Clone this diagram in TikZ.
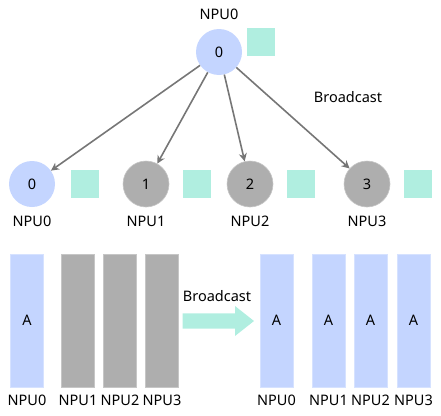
\documentclass[tikz,border=0pt]{standalone}
\usepackage{fontspec}
\setmainfont{Noto Sans}
\usetikzlibrary{arrows.meta}
\definecolor{npublue}{HTML}{C4D5FF}
\definecolor{npugray}{HTML}{AEAEAE}
\definecolor{datateal}{HTML}{B0EEE0}
\definecolor{linkgray}{HTML}{767676}
\newcommand{\lblfont}{\fontsize{14.5}{17}\selectfont}
\tikzstyle{npu}=[circle,minimum size=46pt,inner sep=0pt,font=\lblfont]
\tikzstyle{srcnpu}=[npu,fill=npublue]
\tikzstyle{dstnpu}=[npu,fill=npugray,draw=npugray!70!white,line width=0.6pt]
\tikzstyle{datablock}=[fill=datateal,minimum size=28pt,inner sep=0pt]
\tikzstyle{lbl}=[font=\lblfont,inner sep=0pt]
\tikzstyle{link}=[draw=linkgray,line width=1.6pt,-{Stealth[length=8pt,width=8pt]}]
\tikzstyle{buffer}=[minimum width=33pt,minimum height=133pt,inner sep=0pt,font=\lblfont]
\tikzstyle{fullbuf}=[buffer,fill=npublue,draw=npublue!70!white,line width=0.6pt]
\tikzstyle{emptybuf}=[buffer,fill=npugray,draw=npugray!70!white,line width=0.6pt]

\begin{document}
\begin{tikzpicture}[x=1pt,y=-1pt]
	\useasboundingbox (0,0) rectangle (441,415);
	% top: source NPU
	\node[srcnpu] (root) at (219,52) {0};
	\node[lbl] (rootname) at (219,14) {NPU0};
	\node[datablock] (rootdata) at (261,42) {};
	% row of receivers
	\node[srcnpu] (n0) at (32,184) {0};
	\node[dstnpu] (n1) at (146,184) {1};
	\node[dstnpu] (n2) at (250,184) {2};
	\node[dstnpu] (n3) at (367,184) {3};
	\foreach \i/\x in {0/85,1/197,2/301,3/418} {
		\node[datablock] (d\i) at (\x,184) {};
		\node[lbl] (name\i) at (n\i |- 0,221) {NPU\i};
		\draw[link] (root) -- (n\i);
	}
	\node[lbl] (bcast) at (348,97) {Broadcast};
	% bottom: buffers before and after
	\node[fullbuf] (a0) at (27,320.5) {A};
	\node[emptybuf] (a1) at (78,320.5) {};
	\node[emptybuf] (a2) at (120,320.5) {};
	\node[emptybuf] (a3) at (162,320.5) {};
	\node[fullbuf] (b0) at (276.5,320.5) {A};
	\node[fullbuf] (b1) at (328.5,320.5) {A};
	\node[fullbuf] (b2) at (370.5,320.5) {A};
	\node[fullbuf] (b3) at (413.5,320.5) {A};
	\foreach \i in {0,1,2,3} {
		\node[lbl] (la\i) at (a\i |- 0,400) {NPU\i};
		\node[lbl] (lb\i) at (b\i |- 0,400) {NPU\i};
	}
	% block arrow between the two states
	\fill[datateal] (182.7,313.3) -- (235,313.3) -- (235,306) -- (254,321)
		-- (235,336) -- (235,328.7) -- (182.7,328.7) -- cycle;
	\node[lbl] (bcast2) at (217,296) {Broadcast};
\end{tikzpicture}
\end{document}
